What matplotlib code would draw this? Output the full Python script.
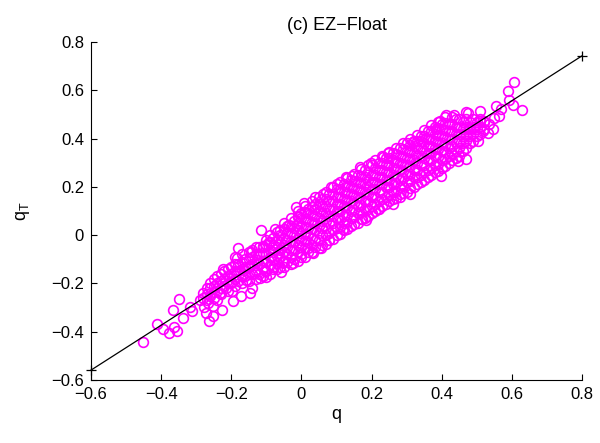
import matplotlib
matplotlib.use("Agg")
import matplotlib.pyplot as plt

# scattered points (q, q_T)
out_q = [-0.451, -0.411, -0.396, -0.377, -0.356, -0.363, -0.366, -0.349, -0.339, -0.318,
         -0.312, -0.290, -0.278, -0.273, -0.263, -0.252, -0.266, -0.252, -0.242, -0.233,
         -0.227, -0.225, -0.214, -0.202, -0.195, -0.199, -0.192, -0.185, -0.180, -0.171,
         -0.164, -0.157, -0.147, -0.152, -0.145, -0.140, -0.133, -0.128, -0.119, -0.114,
         -0.111, -0.105, -0.100, -0.092, -0.086, -0.081, -0.074, -0.067, -0.057, -0.052,
         -0.043, -0.035, -0.024, -0.015, -0.010, 0.000, 0.007, 0.019, 0.032, 0.038,
         0.057, 0.062, 0.079, 0.085, 0.100, 0.118, 0.128, 0.145, 0.166, 0.173,
         0.185, 0.199, 0.218, 0.232, 0.247, 0.261, 0.280, 0.309, 0.318, 0.356,
         0.384, 0.398, 0.396, 0.413, 0.436, 0.422, 0.446, 0.470, 0.470, 0.474,
         0.508, 0.479, 0.503, 0.517, 0.521, 0.545, 0.550, 0.554, 0.564, 0.569,
         0.588, 0.593, 0.603, 0.607, 0.629, 0.536, 0.531, 0.508]
out_qt = [-0.441, -0.366, -0.388, -0.404, -0.396, -0.379, -0.312, -0.263, -0.342, -0.299,
          -0.315, -0.267, -0.299, -0.322, -0.356, -0.336, -0.281, -0.295, -0.267, -0.240,
          -0.312, -0.141, -0.219, -0.192, -0.274, -0.233, -0.164, -0.093, -0.052, -0.251,
          -0.144, -0.185, -0.240, -0.130, -0.068, -0.219, -0.158, -0.103, -0.178, 0.023,
          -0.048, -0.144, -0.175, -0.027, -0.089, -0.130, 0.027, -0.075, -0.151, -0.110,
          -0.021, 0.041, -0.116, 0.116, 0.075, -0.089, 0.133, -0.055, -0.075, 0.158,
          -0.055, 0.171, -0.021, 0.199, 0.212, 0.027, 0.240, 0.247, 0.281, 0.068,
          0.062, 0.301, 0.110, 0.322, 0.342, 0.130, 0.158, 0.171, 0.384, 0.404,
          0.438, 0.247, 0.473, 0.497, 0.497, 0.459, 0.308, 0.315, 0.511, 0.507,
          0.514, 0.445, 0.390, 0.432, 0.473, 0.438, 0.486, 0.534, 0.493, 0.521,
          0.596, 0.558, 0.541, 0.634, 0.518, 0.459, 0.425, 0.473]

# dense core of the cloud, column by column (even columns)
core_q = [-0.28, -0.26, -0.24, -0.22, -0.20, -0.18, -0.16, -0.14,
          -0.12, -0.10, -0.08, -0.06, -0.04, -0.02, 0.00, 0.02, 0.04, 0.06,
          0.08, 0.10, 0.12, 0.14, 0.16, 0.18, 0.20, 0.22, 0.24, 0.26, 0.28,
          0.30, 0.32, 0.34, 0.36, 0.38, 0.40, 0.42, 0.44, 0.46, 0.48, 0.50, 0.52]
core_qt = [[-0.26, -0.24], [-0.25, -0.22, -0.20], [-0.23, -0.20, -0.17],
           [-0.21, -0.18, -0.15], [-0.20, -0.16, -0.13], [-0.19, -0.15, -0.12],
           [-0.17, -0.13, -0.10], [-0.16, -0.12, -0.09, -0.06],
           [-0.16, -0.12, -0.08, -0.05], [-0.15, -0.11, -0.08, -0.04, -0.02],
           [-0.14, -0.10, -0.07, -0.04, -0.01], [-0.13, -0.09, -0.06, -0.03, 0.00, 0.02],
           [-0.11, -0.08, -0.05, -0.02, 0.01, 0.04], [-0.10, -0.06, -0.03, 0.00, 0.03, 0.06],
           [-0.08, -0.05, -0.02, 0.01, 0.04, 0.07, 0.09], [-0.07, -0.03, 0.00, 0.03, 0.06, 0.09, 0.11],
           [-0.05, -0.02, 0.02, 0.05, 0.08, 0.11, 0.13], [-0.04, 0.00, 0.03, 0.06, 0.09, 0.12, 0.15],
           [-0.02, 0.01, 0.05, 0.08, 0.11, 0.14, 0.17], [0.00, 0.03, 0.07, 0.10, 0.13, 0.16, 0.19],
           [0.02, 0.05, 0.08, 0.12, 0.15, 0.18, 0.21], [0.04, 0.07, 0.10, 0.14, 0.17, 0.20, 0.23],
           [0.05, 0.09, 0.12, 0.16, 0.19, 0.22, 0.25], [0.07, 0.11, 0.14, 0.18, 0.21, 0.24, 0.27],
           [0.09, 0.12, 0.16, 0.19, 0.22, 0.25, 0.29], [0.11, 0.14, 0.18, 0.21, 0.24, 0.27, 0.30],
           [0.13, 0.16, 0.20, 0.23, 0.26, 0.29, 0.32], [0.15, 0.18, 0.21, 0.25, 0.28, 0.31, 0.34],
           [0.17, 0.20, 0.23, 0.27, 0.30, 0.33, 0.36], [0.18, 0.22, 0.25, 0.29, 0.32, 0.35, 0.38],
           [0.20, 0.24, 0.27, 0.31, 0.34, 0.37, 0.39], [0.22, 0.25, 0.29, 0.33, 0.36, 0.39, 0.41],
           [0.24, 0.27, 0.31, 0.34, 0.37, 0.40, 0.43], [0.26, 0.29, 0.33, 0.36, 0.39, 0.42, 0.45],
           [0.28, 0.31, 0.35, 0.38, 0.41, 0.44, 0.46], [0.30, 0.33, 0.36, 0.40, 0.43, 0.46],
           [0.32, 0.35, 0.38, 0.42, 0.45, 0.48], [0.35, 0.38, 0.41, 0.44, 0.47],
           [0.38, 0.41, 0.44, 0.47], [0.41, 0.44, 0.47], [0.44, 0.47]]

# dense core, odd columns in between
core2_q = [-0.27, -0.25, -0.23, -0.21, -0.19, -0.17, -0.15, -0.13,
           -0.11, -0.09, -0.07, -0.05, -0.03, -0.01, 0.01, 0.03, 0.05, 0.07,
           0.09, 0.11, 0.13, 0.15, 0.17, 0.19, 0.21, 0.23, 0.25, 0.27, 0.29,
           0.31, 0.33, 0.35, 0.37, 0.39, 0.41, 0.43, 0.45, 0.47, 0.49, 0.51]
core2_qt = [[-0.27, -0.245, -0.22], [-0.26, -0.235, -0.21, -0.18],
            [-0.245, -0.22, -0.19, -0.16], [-0.23, -0.20, -0.17, -0.14],
            [-0.21, -0.18, -0.15, -0.12, -0.09], [-0.20, -0.17, -0.14, -0.11, -0.08],
            [-0.19, -0.16, -0.13, -0.10, -0.07], [-0.18, -0.15, -0.11, -0.08, -0.05],
            [-0.17, -0.135, -0.105, -0.075, -0.045], [-0.16, -0.125, -0.09, -0.06, -0.03, 0.00],
            [-0.14, -0.115, -0.085, -0.05, -0.02, 0.015], [-0.13, -0.105, -0.07, -0.04, -0.01, 0.025, 0.05],
            [-0.12, -0.09, -0.06, -0.025, 0.01, 0.04, 0.07],
            [-0.105, -0.07, -0.04, -0.01, 0.02, 0.05, 0.08, 0.10],
            [-0.09, -0.055, -0.025, 0.005, 0.035, 0.065, 0.095, 0.12],
            [-0.07, -0.04, -0.01, 0.025, 0.055, 0.085, 0.115, 0.14],
            [-0.055, -0.02, 0.01, 0.04, 0.07, 0.10, 0.13, 0.16],
            [-0.035, 0.00, 0.03, 0.06, 0.09, 0.12, 0.15, 0.18],
            [-0.015, 0.02, 0.05, 0.08, 0.11, 0.14, 0.17, 0.20],
            [0.005, 0.035, 0.065, 0.10, 0.13, 0.16, 0.19, 0.22],
            [0.025, 0.055, 0.085, 0.115, 0.145, 0.175, 0.205, 0.235],
            [0.045, 0.075, 0.105, 0.135, 0.165, 0.195, 0.225, 0.255],
            [0.065, 0.095, 0.125, 0.155, 0.185, 0.215, 0.245, 0.275],
            [0.08, 0.11, 0.14, 0.17, 0.20, 0.23, 0.26, 0.29],
            [0.10, 0.13, 0.16, 0.19, 0.22, 0.25, 0.28, 0.31],
            [0.12, 0.15, 0.18, 0.21, 0.24, 0.27, 0.30, 0.33],
            [0.14, 0.17, 0.20, 0.23, 0.26, 0.29, 0.32, 0.345],
            [0.155, 0.185, 0.215, 0.245, 0.275, 0.305, 0.335, 0.36],
            [0.175, 0.205, 0.235, 0.265, 0.295, 0.325, 0.355, 0.38],
            [0.195, 0.225, 0.255, 0.285, 0.315, 0.345, 0.375, 0.40],
            [0.21, 0.24, 0.27, 0.30, 0.33, 0.36, 0.39, 0.415],
            [0.23, 0.26, 0.29, 0.32, 0.35, 0.38, 0.41, 0.435],
            [0.25, 0.28, 0.31, 0.34, 0.37, 0.40, 0.43, 0.455],
            [0.265, 0.295, 0.325, 0.355, 0.385, 0.415, 0.445, 0.47],
            [0.285, 0.315, 0.345, 0.375, 0.405, 0.435, 0.465, 0.49],
            [0.31, 0.34, 0.37, 0.40, 0.43, 0.46, 0.49],
            [0.33, 0.36, 0.39, 0.42, 0.45, 0.48],
            [0.36, 0.39, 0.42, 0.45, 0.48],
            [0.39, 0.42, 0.45, 0.48],
            [0.42, 0.45, 0.48]]

# fitted line end points
line_q = [-0.6, 0.8]
line_qt = [-0.559, 0.743]

ticks = [-0.6, -0.4, -0.2, 0, 0.2, 0.4, 0.6, 0.8]
tick_labels = ["\u22120.6", "\u22120.4", "\u22120.2", "0", "0.2", "0.4", "0.6", "0.8"]

q = list(out_q)
qt = list(out_qt)
for cols, vals in [(core_q, core_qt), (core2_q, core2_qt)]:
    for x, ys in zip(cols, vals):
        q += [x] * len(ys)
        qt += ys

plt.rcParams['font.family'] = ['Liberation Sans', 'DejaVu Sans']

fig = plt.figure(figsize=(6, 4.43), dpi=100)
ax = fig.add_axes([0.1517, 0.1422, 0.97 - 0.1517, 0.905 - 0.1422])

ax.plot(q, qt, 'o', mfc='none', mec='#ff00ff', ms=7, mew=1.2)
ax.plot(line_q, line_qt, '-+', color='black', lw=0.9, ms=7, mew=0.9, clip_on=False)

ax.set_xlim(-0.6, 0.8)
ax.set_ylim(-0.6, 0.8)
ax.set_xticks(ticks)
ax.set_xticklabels(tick_labels)
ax.set_yticks(ticks)
ax.set_yticklabels(tick_labels)
ax.tick_params(direction='in', length=4, width=0.8, labelsize=12, pad=5)
for s in ['top', 'right']:
    ax.spines[s].set_visible(False)
for s in ['left', 'bottom']:
    ax.spines[s].set_linewidth(0.8)

ax.set_xlabel('q', fontsize=13, labelpad=3)
ax.set_ylabel('q$_\\mathregular{T}$', fontsize=13, labelpad=14)
ax.set_title('(c) EZ\u2212Float', fontsize=13, pad=9)

fig.savefig('out.png', dpi=100)
